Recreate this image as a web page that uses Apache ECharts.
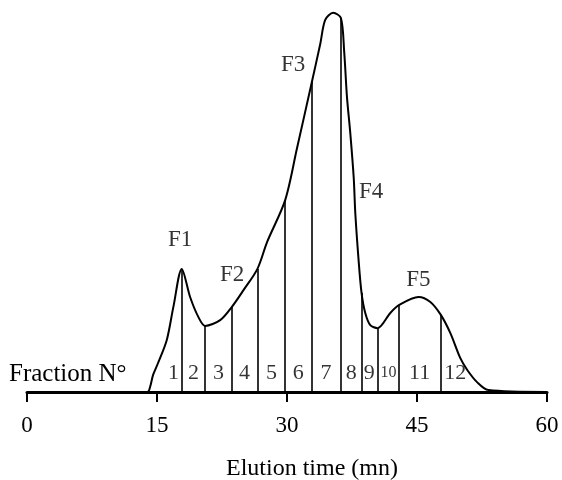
<!DOCTYPE html>
<html>
<head>
<meta charset="utf-8">
<script src="https://cdn.jsdelivr.net/npm/echarts@6/dist/echarts.min.js"></script>
<style>
  html, body { margin: 0; padding: 0; background: #fff; }
  #chart { width: 562px; height: 480px; }
</style>
</head>
<body>
<div id="chart"></div>
<script>
// elution profile: [time (mn), signal]
const curvePoints = [
  [0, 0], [13.9, 0], [14.2, 1.3], [14.55, 4.5], [15.1, 7.5], [16.13, 13.7], [16.89, 22.4],
  [17.86, 32.4], [18.82, 25.0], [19.78, 19.7], [20.55, 17.4], [22.29, 18.9], [23.64, 22.4],
  [24.98, 26.8], [26.59, 32.4], [27.71, 39.5], [29.79, 50.5], [31.14, 64.0], [32.87, 81.6],
  [33.83, 91.5], [34.41, 97.9], [35.33, 99.8], [36.22, 98.4], [36.6, 89.5], [36.92, 77.6],
  [37.3, 68.2], [37.7, 56.3], [37.88, 47.1], [38.26, 34.7], [38.6, 26.1], [39.03, 20.8],
  [39.61, 17.6], [40.45, 16.8], [41.92, 20.8], [42.95, 22.9], [45.18, 25.0], [46.54, 23.7],
  [47.75, 20.3], [48.85, 15.5], [50.0, 8.9], [50.8, 5.8], [51.93, 2.6], [53.23, 0.5], [60, 0]
]
// fraction cut times and the signal where each cut meets the curve
const cutTimes = [17.86, 20.55, 23.64, 26.59, 29.79, 32.87, 36.22, 38.6, 40.45, 42.95, 47.75]
const cutHeights = [32.4, 17.4, 22.4, 32.4, 50.5, 81.6, 98.4, 26.1, 16.8, 22.9, 20.3]
const fractionNames = ['1', '2', '3', '4', '5', '6', '7', '8', '9', '10', '11', '12']
const fractionMid = [16.9, 19.2, 22.1, 25.1, 28.2, 31.3, 34.5, 37.4, 39.5, 41.7, 45.3, 49.4]
const peakNames = ['F1', 'F2', 'F3', 'F4', 'F5']
const peakPos = [[17.67, 40], [23.67, 30.8], [30.7, 86], [39.7, 52.6], [45.15, 29.5]]
const xTicks = [0, 15, 30, 45, 60]

const serif = '"Liberation Serif", "DejaVu Serif", serif'
const chart = echarts.init(document.getElementById('chart'))

const option = {
  backgroundColor: '#fff',
  animation: false,
  grid: { left: 27, right: 15, top: 12, bottom: 88 },
  xAxis: {
    type: 'value',
    min: xTicks[0],
    max: xTicks[xTicks.length - 1],
    interval: 15,
    axisLine: { lineStyle: { color: '#000', width: 3 } },
    axisTick: { show: true, length: 10, lineStyle: { color: '#000', width: 2 } },
    axisLabel: { color: '#000', fontFamily: serif, fontSize: 23, margin: 22 },
    splitLine: { show: false }
  },
  yAxis: { type: 'value', min: 0, max: 100, show: false },
  graphic: [
    { type: 'text', left: 9, top: 362, style: { text: 'Fraction N°', font: '25px ' + serif, fill: '#000' } },
    { type: 'text', left: 226, top: 457, style: { text: 'Elution time (mn)', font: '24px ' + serif, fill: '#000' } }
  ],
  series: [
    {
      type: 'line',
      data: curvePoints,
      showSymbol: false,
      smooth: 0.3,
      lineStyle: { color: '#000', width: 2 },
      z: 3
    },
    {
      type: 'lines',
      coordinateSystem: 'cartesian2d',
      data: cutTimes.map((t, i) => ({ coords: [[t, 0], [t, cutHeights[i]]] })),
      lineStyle: { color: '#000', width: 1.6, opacity: 1 },
      z: 2
    },
    {
      type: 'scatter',
      symbolSize: 0,
      data: fractionNames.map((n, i) => ({
        name: n,
        value: [fractionMid[i], 5],
        label: n === '10' ? { fontSize: 16 } : undefined
      })),
      label: {
        show: true, position: 'inside', formatter: p => p.name,
        color: '#000', fontFamily: serif, fontSize: 22
      },
      z: 4
    },
    {
      type: 'scatter',
      symbolSize: 0,
      data: peakNames.map((n, i) => ({ name: n, value: peakPos[i] })),
      label: {
        show: true, position: 'inside', formatter: p => p.name,
        color: '#000', fontFamily: serif, fontSize: 23
      },
      z: 4
    }
  ]
}
chart.setOption(option)
</script>
</body>
</html>
